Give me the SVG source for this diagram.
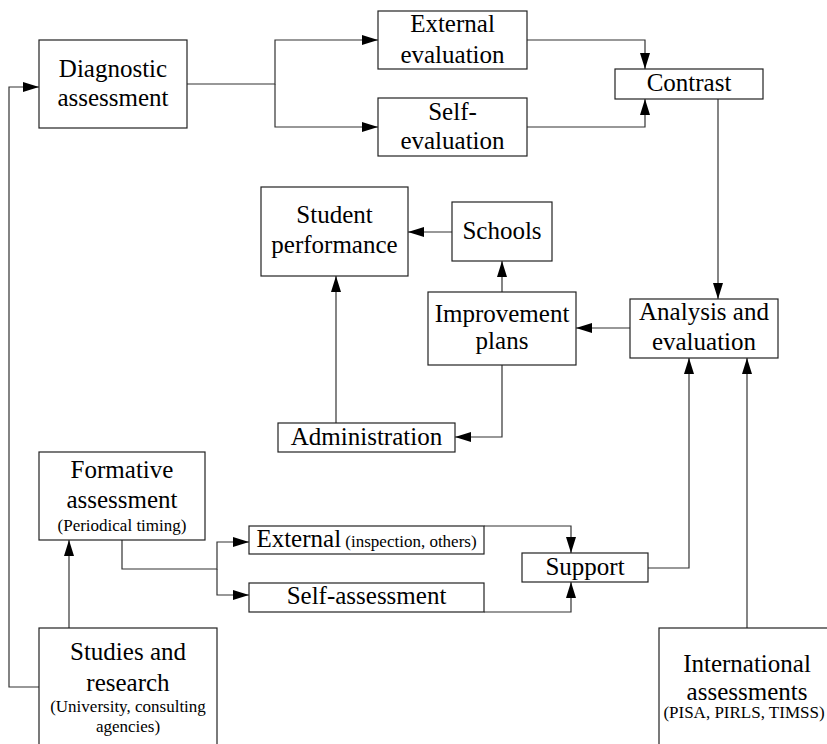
<svg xmlns="http://www.w3.org/2000/svg" width="827" height="744" viewBox="0 0 827 744" font-family="'Liberation Serif', 'Times New Roman', Times, 'DejaVu Serif', serif">
  <style>
    .box { fill: #ffffff; stroke: #222222; stroke-width: 1.2; }
    .wire { fill: none; stroke: #333333; stroke-width: 1.2; marker-end: url(#arrow); }
    .lbl { font-family: "Liberation Serif", "Times New Roman", Times, "DejaVu Serif", serif; fill: #000000; text-anchor: middle; }
    .big { font-size: 25px; }
    .small { font-size: 17px; }
  </style>
  <defs>
    <marker id="arrow" viewBox="0 0 16 10" refX="16" refY="5" markerWidth="16" markerHeight="10" markerUnits="userSpaceOnUse" orient="auto">
      <path d="M0,0 L16,5 L0,10 z" fill="#000000"/>
    </marker>
  </defs>

  <rect width="827" height="744" fill="#ffffff"/>

  <!-- connectors -->
  <g id="connectors">
    <path class="wire" d="M187,84 H275 V40 H378"/>
    <path class="wire" d="M275,84 V127 H378"/>
    <path class="wire" d="M527,40 H645 V69"/>
    <path class="wire" d="M527,127 H645 V99"/>
    <path class="wire" d="M718,99 V299"/>
    <path class="wire" d="M630,328 H576"/>
    <path class="wire" d="M502,292 V261"/>
    <path class="wire" d="M452,232 H408"/>
    <path class="wire" d="M502,365 V437 H455"/>
    <path class="wire" d="M336,423 V276"/>
    <path class="wire" d="M39,687 H9 V87 H39"/>
    <path class="wire" d="M69,628 V540"/>
    <path class="wire" d="M122,540 V569 H217 V542 H249"/>
    <path class="wire" d="M217,569 V595 H249"/>
    <path class="wire" d="M484,526 H571 V553"/>
    <path class="wire" d="M484,612 H571 V582"/>
    <path class="wire" d="M648,568 H689 V358"/>
    <path class="wire" d="M747,628 V358"/>
  </g>

  <!-- nodes -->
  <g id="diagnostic">
    <rect class="box" x="39" y="40" width="148" height="88"/>
    <text class="lbl big" x="113" y="77">Diagnostic</text>
    <text class="lbl big" x="113" y="106">assessment</text>
  </g>

  <g id="external-evaluation">
    <rect class="box" x="378" y="11" width="149" height="58"/>
    <text class="lbl big" x="452.5" y="32">External</text>
    <text class="lbl big" x="452.5" y="63">evaluation</text>
  </g>

  <g id="self-evaluation">
    <rect class="box" x="378" y="98" width="149" height="58"/>
    <text class="lbl big" x="452.5" y="120">Self-</text>
    <text class="lbl big" x="452.5" y="149">evaluation</text>
  </g>

  <g id="contrast">
    <rect class="box" x="615" y="69" width="148" height="30"/>
    <text class="lbl big" x="689" y="91">Contrast</text>
  </g>

  <g id="student-performance">
    <rect class="box" x="261" y="187" width="147" height="89"/>
    <text class="lbl big" x="334.5" y="223">Student</text>
    <text class="lbl big" x="334.5" y="253">performance</text>
  </g>

  <g id="schools">
    <rect class="box" x="452" y="202" width="100" height="59"/>
    <text class="lbl big" x="502" y="239">Schools</text>
  </g>

  <g id="improvement-plans">
    <rect class="box" x="428" y="292" width="148" height="73"/>
    <text class="lbl big" x="502" y="322">Improvement</text>
    <text class="lbl big" x="502" y="349">plans</text>
  </g>

  <g id="analysis">
    <rect class="box" x="630" y="299" width="148" height="59"/>
    <text class="lbl big" x="704" y="320">Analysis and</text>
    <text class="lbl big" x="704" y="350">evaluation</text>
  </g>

  <g id="administration">
    <rect class="box" x="278" y="423" width="177" height="29"/>
    <text class="lbl big" x="366.5" y="445">Administration</text>
  </g>

  <g id="formative">
    <rect class="box" x="39" y="452" width="166" height="88"/>
    <text class="lbl big" x="122" y="478">Formative</text>
    <text class="lbl big" x="122" y="508">assessment</text>
    <text class="lbl small" x="122" y="531">(Periodical timing)</text>
  </g>

  <g id="external">
    <rect class="box" x="249" y="526" width="235" height="28"/>
    <text class="lbl" x="366.5" y="547"><tspan class="big">External</tspan><tspan class="small"> (inspection, others)</tspan></text>
  </g>

  <g id="self-assessment">
    <rect class="box" x="249" y="583" width="235" height="29"/>
    <text class="lbl big" x="366.5" y="604">Self-assessment</text>
  </g>

  <g id="support">
    <rect class="box" x="522" y="553" width="126" height="29"/>
    <text class="lbl big" x="585" y="575">Support</text>
  </g>

  <g id="studies">
    <rect class="box" x="39" y="628" width="178" height="130"/>
    <text class="lbl big" x="128" y="660">Studies and</text>
    <text class="lbl big" x="128" y="691">research</text>
    <text class="lbl small" x="128" y="712">(University, consulting</text>
    <text class="lbl small" x="128" y="732">agencies)</text>
  </g>

  <g id="international">
    <rect class="box" x="659" y="628" width="180" height="130"/>
    <text class="lbl big" x="747" y="672">International</text>
    <text class="lbl big" x="747" y="700">assessments</text>
    <text class="lbl small" x="744" y="718">(PISA, PIRLS, TIMSS)</text>
  </g>
</svg>
